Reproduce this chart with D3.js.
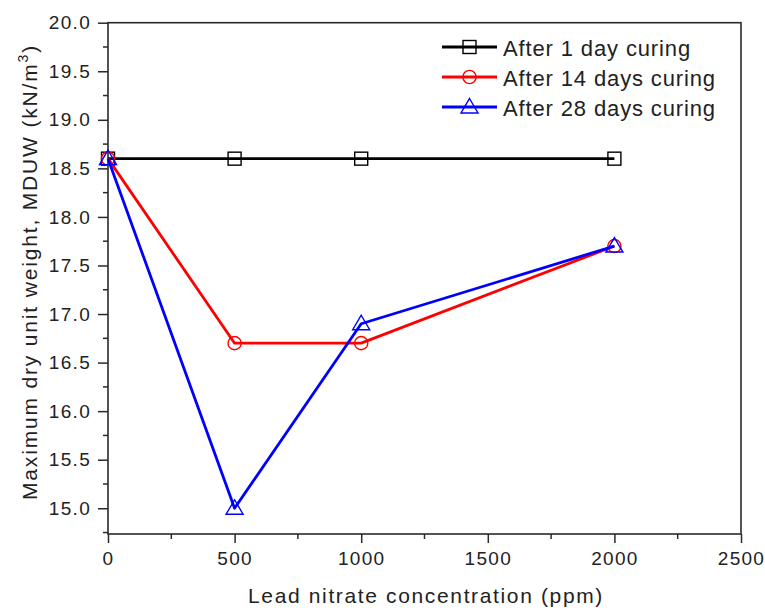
<!DOCTYPE html>
<html>
<head>
<meta charset="utf-8">
<script src="https://cdn.jsdelivr.net/npm/d3@7"></script>
<style>
  html, body { margin: 0; padding: 0; background: #fff; }
  svg { display: block; }
  text { font-family: "Liberation Sans", Arial, sans-serif; fill: #222; }
</style>
</head>
<body>
<svg id="chart" width="765" height="610"></svg>
<script>
// ---- data ----
const concentrations = [0, 500, 1000, 2000];
const day1 = [18.6, 18.6, 18.6, 18.6];
const day14 = [18.6, 16.7, 16.7, 17.7];
const day28 = [18.6, 15.0, 16.9, 17.7];
const seriesNames = ["After 1 day curing", "After 14 days curing", "After 28 days curing"];
const xTicks = [0, 500, 1000, 1500, 2000, 2500];
const yTicks = [15.0, 15.5, 16.0, 16.5, 17.0, 17.5, 18.0, 18.5, 19.0, 19.5, 20.0];
const xLabel = "Lead nitrate concentration (ppm)";
const yLabel = "Maximum dry unit weight, MDUW (kN/m";

// ---- layout ----
const svg = d3.select("#chart");
const L = 108, R = 741, T = 22.7, B = 534;
const x = d3.scaleLinear().domain([0, 2500]).range([L, R]);
const y = d3.scaleLinear().domain([14.735, 20]).range([B, T]);
const axisColor = "#2a2a2a";

const series = [
  { name: seriesNames[0], values: day1, color: "#000000", marker: "square" },
  { name: seriesNames[1], values: day14, color: "#ff0000", marker: "circle" },
  { name: seriesNames[2], values: day28, color: "#0000ff", marker: "triangle" }
];

// adjust letter-spacing so that the text's advance matches a target length
function fitSpacing(sel, target, nChars) {
  let ls = 0;
  sel.attr("letter-spacing", "0px");
  for (let k = 0; k < 3; k++) {
    const w = sel.node().getBBox().width;
    ls += (target - w) / nChars;
    sel.attr("letter-spacing", ls + "px");
  }
  return ls;
}

function drawMarker(g, type, cx, cy, color) {
  if (type === "square") {
    g.append("rect").attr("x", cx - 6.5).attr("y", cy - 6.5).attr("width", 13).attr("height", 13)
      .attr("fill", "none").attr("stroke", color).attr("stroke-width", 1.4);
  } else if (type === "circle") {
    g.append("circle").attr("cx", cx).attr("cy", cy).attr("r", 6.6)
      .attr("fill", "none").attr("stroke", color).attr("stroke-width", 1.4);
  } else {
    const p = d3.path();
    p.moveTo(cx, cy - 8.5);
    p.lineTo(cx + 8.5, cy + 6);
    p.lineTo(cx - 8.5, cy + 6);
    p.closePath();
    g.append("path").attr("d", p.toString())
      .attr("fill", "none").attr("stroke", color).attr("stroke-width", 1.4).attr("stroke-linejoin", "miter");
  }
}

// ---- axes (left + bottom with outward ticks) ----
const yAxis = d3.axisLeft(y).tickValues(yTicks).tickFormat(d3.format(".1f")).tickSize(10).tickPadding(7);
const gy = svg.append("g").attr("transform", `translate(${L},0)`).call(yAxis);
gy.select(".domain").remove();
gy.selectAll(".tick line").attr("stroke", axisColor).attr("stroke-width", 1.5);
gy.selectAll(".tick text").attr("font-size", 19).attr("letter-spacing", "1.3px")
  .attr("fill", "#222").style("font-family", "'Liberation Sans', Arial, sans-serif");

const yMinor = d3.range(14.75, 20, 0.5);
svg.append("g").selectAll("line").data(yMinor).join("line")
  .attr("x1", L - 5).attr("x2", L).attr("y1", d => y(d)).attr("y2", d => y(d))
  .attr("stroke", axisColor).attr("stroke-width", 1.5);

const xAxis = d3.axisBottom(x).tickValues(xTicks).tickFormat(d3.format("d")).tickSize(9).tickPadding(9);
const gx = svg.append("g").attr("transform", `translate(0,${B})`).call(xAxis);
gx.select(".domain").remove();
gx.selectAll(".tick line").attr("stroke", axisColor).attr("stroke-width", 1.5);
gx.selectAll(".tick text").attr("font-size", 19).attr("letter-spacing", "1.3px")
  .attr("fill", "#222").style("font-family", "'Liberation Sans', Arial, sans-serif");

const xMinor = d3.range(250, 2500, 500);
svg.append("g").selectAll("line").data(xMinor).join("line")
  .attr("x1", d => x(d)).attr("x2", d => x(d)).attr("y1", B).attr("y2", B + 5)
  .attr("stroke", axisColor).attr("stroke-width", 1.5);

// frame
svg.append("rect").attr("x", L).attr("y", T).attr("width", R - L).attr("height", B - T)
  .attr("fill", "none").attr("stroke", axisColor).attr("stroke-width", 1.6);

// ---- series ----
const line = d3.line().x((d, i) => x(concentrations[i])).y(d => y(d));
series.forEach(s => {
  const g = svg.append("g");
  g.append("path").datum(s.values).attr("d", line)
    .attr("fill", "none").attr("stroke", s.color).attr("stroke-width", 2.8).attr("stroke-linejoin", "round");
  s.values.forEach((v, i) => drawMarker(g, s.marker, x(concentrations[i]), y(v), s.color));
});

// ---- legend ----
const legY = [47, 77, 107];
const legTexts = [];
series.forEach((s, i) => {
  const g = svg.append("g");
  g.append("line").attr("x1", 442).attr("x2", 497).attr("y1", legY[i]).attr("y2", legY[i])
    .attr("stroke", s.color).attr("stroke-width", 2.8);
  drawMarker(g, s.marker, 469.5, legY[i], s.color);
  legTexts.push(g.append("text").attr("x", 503).attr("y", legY[i] + 8.5).attr("font-size", 22).text(s.name));
});
const legLs = fitSpacing(legTexts[0], 188, seriesNames[0].length);
legTexts.forEach(t => t.attr("letter-spacing", legLs + "px"));

// ---- axis titles ----
const xl = svg.append("text").attr("x", 248).attr("y", 603).attr("text-anchor", "start")
  .attr("font-size", 21).text(xLabel);
fitSpacing(xl, 356, xLabel.length);

const yl = svg.append("text")
  .attr("transform", `translate(37,500) rotate(-90)`)
  .attr("text-anchor", "start").attr("font-size", 21);
yl.append("tspan").text(yLabel);
yl.append("tspan").attr("font-size", 14).attr("dy", -9).text("3");
yl.append("tspan").attr("dy", 9).text(")");
fitSpacing(yl, 456, yLabel.length + 2);
</script>
</body>
</html>
